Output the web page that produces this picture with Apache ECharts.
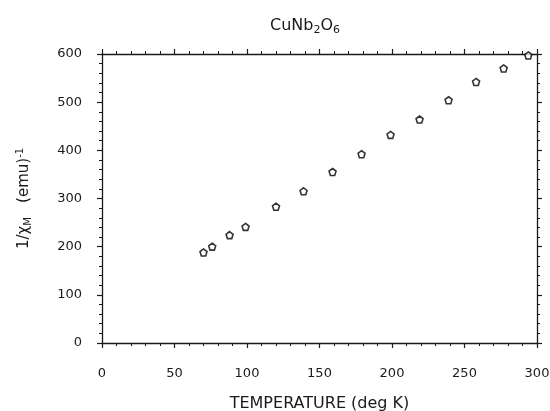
<!DOCTYPE html>
<html>
<head>
<meta charset="utf-8">
<script src="https://cdn.jsdelivr.net/npm/echarts@6/dist/echarts.min.js"></script>
<style>
  html, body { margin: 0; padding: 0; background: #fff; }
  #chart { width: 550px; height: 411px; }
</style>
</head>
<body>
<div id="chart"></div>
<script>
// temperature (K) and inverse molar susceptibility
const temps = [70, 76, 88, 99, 120, 139, 159, 179, 199, 219, 239, 258, 277, 294]
const invChi = [188, 200, 224, 241, 283, 315, 355, 392, 432, 464, 504, 542, 570, 597]

const pentagon = 'path://M50,0 L100,38 L81,100 L19,100 L0,38 Z'
const ink = '#1a1a1a'
const font = 'DejaVu Sans'

const chart = echarts.init(document.getElementById('chart'))

const axisCommon = {
  axisLine: { show: true, onZero: false, lineStyle: { color: ink, width: 1.3 } },
  axisTick: { show: true, inside: false, length: 5, lineStyle: { color: ink, width: 1.2 } },
  minorTick: { show: true, splitNumber: 5, length: 3, lineStyle: { color: ink, width: 1 } },
  splitLine: { show: false },
  minorSplitLine: { show: false },
}

chart.setOption({
  animation: false,
  backgroundColor: '#fff',
  title: {
    text: 'CuNb{sub|2}O{sub|6}',
    left: 265,
    top: 11,
    textStyle: {
      fontFamily: font,
      fontSize: 16,
      fontWeight: 'normal',
      color: ink,
      rich: { sub: { fontFamily: font, fontSize: 11, color: ink, verticalAlign: 'bottom', padding: [9, 0, 0, 0] } },
    },
  },
  grid: { left: 102, right: 13, top: 54, bottom: 68, outerBoundsMode: 'none' },
  xAxis: [
    {
      type: 'value',
      min: 0,
      max: 300,
      interval: 50,
      position: 'bottom',
      name: 'TEMPERATURE (deg K)',
      nameLocation: 'middle',
      nameGap: 53,
      nameTextStyle: { fontFamily: font, fontSize: 16, color: ink },
      axisLabel: { margin: 24, fontFamily: font, fontSize: 13, color: ink },
      ...axisCommon,
    },
    {
      type: 'value',
      min: 0,
      max: 300,
      interval: 50,
      position: 'top',
      axisLabel: { show: false },
      ...axisCommon,
    },
  ],
  yAxis: [
    {
      type: 'value',
      min: 0,
      max: 600,
      interval: 100,
      position: 'left',
      name: '1/χ{sub|M}   (emu){sup|-1}',
      nameLocation: 'middle',
      nameGap: 68,
      nameTextStyle: {
        fontFamily: font,
        fontSize: 15,
        color: ink,
        rich: {
          sub: { fontFamily: font, fontSize: 10, color: ink, padding: [7, 0, 0, 0] },
          sup: { fontFamily: font, fontSize: 10, color: ink, padding: [0, 0, 9, 0] },
        },
      },
      axisLabel: { margin: 20, fontFamily: font, fontSize: 13, color: ink },
      ...axisCommon,
    },
    {
      type: 'value',
      min: 0,
      max: 600,
      interval: 100,
      position: 'right',
      axisLabel: { show: false },
      ...axisCommon,
    },
  ],
  series: [
    {
      type: 'scatter',
      data: temps.map((t, i) => [t, invChi[i]]),
      symbol: pentagon,
      symbolSize: 7,
      itemStyle: { color: '#fff', borderColor: '#000', borderWidth: 1.6 },
    },
  ],
})
</script>
</body>
</html>
